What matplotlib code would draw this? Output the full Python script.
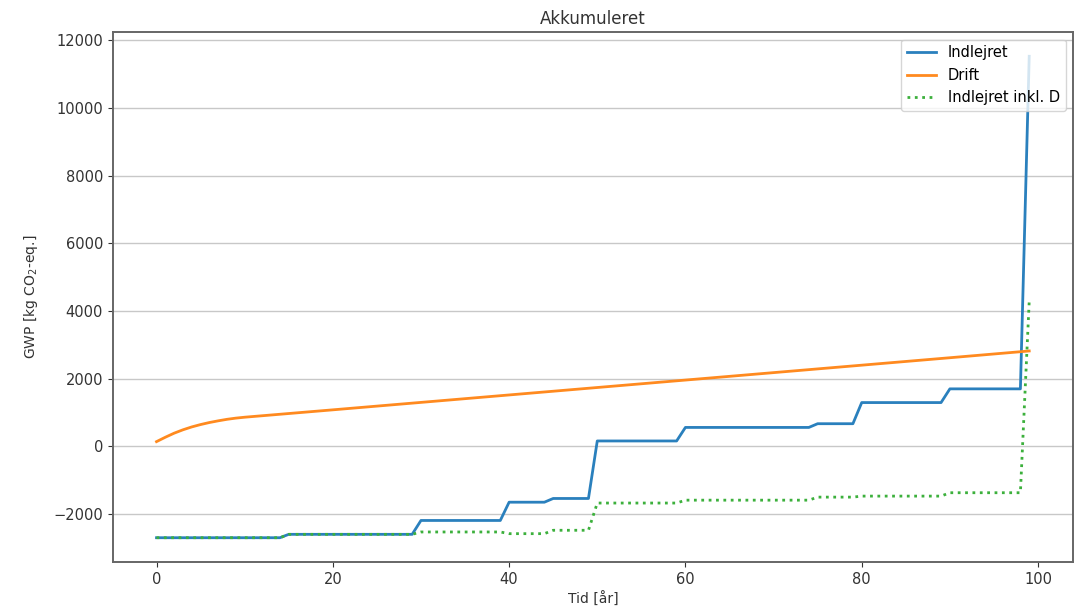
import matplotlib
matplotlib.use("Agg")
import matplotlib.pyplot as plt

# Indlejret (stepwise cumulative embodied GWP)
years_indlejret = [0, 14, 15, 29, 30, 39, 40, 44, 45, 49, 50, 59, 60, 74, 75, 79, 80, 89, 90, 98, 99]
indlejret = [-2700, -2700, -2600, -2600, -2190, -2190, -1650, -1650, -1540, -1540,
             160, 160, 560, 560, 670, 670, 1295, 1295, 1700, 1700, 11530]

# Drift (operation)
years_drift = [0, 1, 2, 3, 4, 5, 6, 7, 8, 9, 10, 20, 30, 40, 50, 60, 70, 80, 90, 99]
drift = [140, 270, 390, 490, 575, 645, 705, 755, 800, 835, 862,
         1080, 1300, 1520, 1740, 1960, 2180, 2400, 2620, 2820]

# Indlejret inkl. D
years_inkl = [0, 14, 15, 29, 30, 39, 40, 44, 45, 49, 50, 59, 60, 74, 75, 79, 80, 89, 90, 98, 99]
indlejret_inkl_d = [-2700, -2700, -2600, -2600, -2530, -2530, -2580, -2580, -2480, -2480,
                    -1675, -1675, -1590, -1590, -1500, -1500, -1470, -1470, -1370, -1370, 4290]

title = "Akkumuleret"
xlabel = "Tid [år]"
ylabel = "GWP [kg CO$_2$-eq.]"
labels = ["Indlejret", "Drift", "Indlejret inkl. D"]

fig = plt.figure(figsize=(10.75, 6.08), dpi=100)
ax = fig.add_axes([0.105, 0.076, 0.893, 0.871])

ax.plot(years_indlejret, indlejret, color="#2a80bd", lw=2.0, label=labels[0])
ax.plot(years_drift, drift, color="#ff8a1f", lw=2.0, label=labels[1])
ax.plot(years_inkl, indlejret_inkl_d, color="#3cb03c", lw=2.0, ls=":", label=labels[2])

ax.set_title(title, fontsize=12, color="#333333")
ax.set_xlabel(xlabel, fontsize=10, color="#333333")
ax.set_ylabel(ylabel, fontsize=10, color="#333333", labelpad=10)
ax.set_xticks([0, 20, 40, 60, 80, 100])
ax.set_yticks([-2000, 0, 2000, 4000, 6000, 8000, 10000, 12000])
ax.tick_params(labelsize=10.5, colors="#333333")
ax.grid(axis="y", color="#c8c8c8", lw=1.0)
ax.set_axisbelow(True)
for s in ax.spines.values():
    s.set_color("#666666")
    s.set_linewidth(1.4)

ax.legend(loc="upper right", fontsize=10.5)

fig.savefig("out.png", dpi=100)
